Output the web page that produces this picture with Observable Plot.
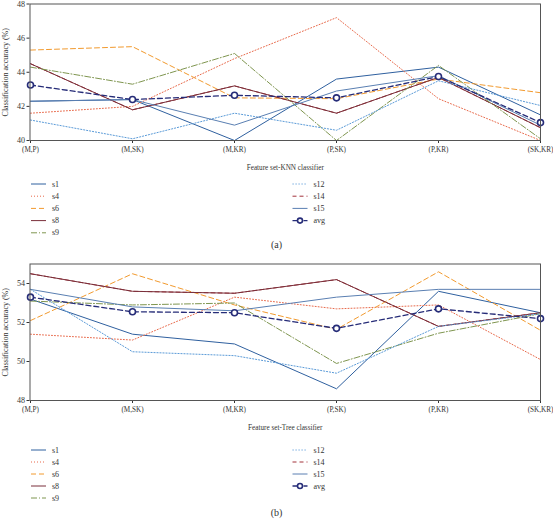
<!DOCTYPE html>
<html><head><meta charset="utf-8">
<script src="https://cdn.jsdelivr.net/npm/d3@7"></script>
<script src="https://cdn.jsdelivr.net/npm/@observablehq/plot@0.6"></script>
<style>
body{margin:0;background:#fff;}
#wrap{position:relative;width:553px;height:520px;font-family:"Liberation Serif",serif;color:#333;overflow:hidden;}
#wrap > *{position:absolute;}
</style></head><body><div id="wrap"></div>
<script>
// ---------- data ----------
const categories = ["(M,P)", "(M,SK)", "(M,KR)", "(P,SK)", "(P,KR)", "(SK,KR)"];
const seriesKeys = ["s1", "s4", "s6", "s8", "s9", "s12", "s14", "s15", "avg"];
const legendLeft = ["s1", "s4", "s6", "s8", "s9"];
const legendRight = ["s12", "s14", "s15", "avg"];
const knnYTicks = [40, 42, 44, 46, 48];
const treeYTicks = [48, 50, 52, 54];

// (a) KNN classifier
const knnS1  = [42.3, 42.4, 40.0, 43.6, 44.3, 41.5];
const knnS4  = [41.6, 42.0, 44.8, 47.2, 42.45, 40.0];
const knnS6  = [45.3, 45.5, 42.5, 42.45, 43.6, 42.8];
const knnS8  = [44.5, 41.8, 43.2, 41.6, 43.7, 40.75];
const knnS9  = [44.3, 43.3, 45.1, 40.0, 44.4, 40.1];
const knnS12 = [41.2, 40.1, 41.6, 40.6, 43.5, 42.05];
const knnS14 = [44.5, 41.8, 43.2, 41.6, 43.7, 40.75];
const knnS15 = [42.3, 42.4, 40.9, 42.9, 43.8, 40.9];
const knnAvg = [43.25, 42.4, 42.65, 42.5, 43.75, 41.05];

// (b) Tree classifier
const treeS1  = [53.2, 51.4, 50.9, 48.6, 53.6, 52.5];
const treeS4  = [51.4, 51.1, 53.3, 52.7, 52.9, 50.1];
const treeS6  = [52.1, 54.5, 52.9, 51.65, 54.6, 51.6];
const treeS8  = [54.5, 53.6, 53.5, 54.2, 51.8, 52.5];
const treeS9  = [53.1, 52.9, 53.0, 49.9, 51.45, 52.45];
const treeS12 = [53.7, 50.5, 50.3, 49.4, 51.8, 52.45];
const treeS14 = [54.5, 53.6, 53.5, 54.2, 51.8, 52.5];
const treeS15 = [53.7, 52.8, 52.6, 53.3, 53.7, 53.7];
const treeAvg = [53.3, 52.55, 52.5, 51.7, 52.7, 52.2];

// ---------- styles ----------
const seriesStyle = {
  s1:  {color: "#2f609f", dash: null},
  s4:  {color: "#e8694a", dash: "1,2"},
  s6:  {color: "#f29a2e", dash: "5,3"},
  s8:  {color: "#7a2f3a", dash: null},
  s9:  {color: "#7f9650", dash: "6,2,1,2"},
  s12: {color: "#5b9bd8", dash: "1.2,1.8"},
  s14: {color: "#a3323a", dash: "4,3"},
  s15: {color: "#5a7fb2", dash: null},
  avg: {color: "#262c78", dash: "5,3"}
};
const drawOrder = ["s14", "s1", "s4", "s6", "s8", "s9", "s12", "s15", "avg"];

function toRows(arrs) {
  return seriesKeys.flatMap((k, i) => arrs[i].map((v, j) => ({series: k, cat: categories[j], value: v})));
}
const knnRows = toRows([knnS1, knnS4, knnS6, knnS8, knnS9, knnS12, knnS14, knnS15, knnAvg]);
const treeRows = toRows([treeS1, treeS4, treeS6, treeS8, treeS9, treeS12, treeS14, treeS15, treeAvg]);

function panel(rows, yDomain, yTicks, xLabel) {
  return Plot.plot({
    width: 553, height: 175.5,
    marginTop: 3.5, marginBottom: 35.5, marginLeft: 29.5, marginRight: 13,
    style: {fontFamily: "'Liberation Serif', serif", fontSize: "8px", color: "#333", background: "transparent", overflow: "visible"},
    x: {type: "point", domain: categories, padding: 0},
    y: {domain: yDomain},
    marks: [
      Plot.axisX({tickSize: 3, tickPadding: 3, fontSize: 7.2, label: xLabel, labelAnchor: "center", labelOffset: 29, labelArrow: "none"}),
      Plot.axisY({ticks: yTicks, tickFormat: d => String(d), tickSize: 3, tickPadding: 2, label: "Classification accuracy (%)", labelAnchor: "center", labelOffset: 28, labelArrow: "none"}),
      ...drawOrder.map(k => Plot.line(rows.filter(d => d.series === k), {
        x: "cat", y: "value", stroke: seriesStyle[k].color,
        strokeDasharray: seriesStyle[k].dash, strokeWidth: k === "avg" ? 1.3 : 1
      })),
      Plot.dot(rows.filter(d => d.series === "avg"), {x: "cat", y: "value", r: 3, stroke: seriesStyle.avg.color, strokeWidth: 1.6, fill: "white"}),
      Plot.frame({stroke: "#555", strokeWidth: 1})
    ]
  });
}

function legend(top, step) {
  const svg = d3.create("svg").attr("width", 553).attr("height", step * 5 + 6)
    .style("left", "0px").style("top", (top - 6) + "px")
    .style("font-family", "'Liberation Serif', serif").style("font-size", "8px");
  const cols = [{keys: legendLeft, x0: 31, x1: 46, tx: 52}, {keys: legendRight, x0: 292.5, x1: 307.5, tx: 313.5}];
  cols.forEach(c => c.keys.forEach((k, i) => {
    const y = 6 + i * step;
    const s = seriesStyle[k];
    svg.append("line").attr("x1", c.x0).attr("x2", c.x1).attr("y1", y).attr("y2", y)
      .attr("stroke", s.color).attr("stroke-width", k === "avg" ? 1.3 : 1)
      .attr("stroke-dasharray", k === "avg" ? "6,1.5,2,1.5" : s.dash);
    if (k === "avg") svg.append("circle").attr("cx", (c.x0 + c.x1) / 2).attr("cy", y).attr("r", 2.5)
      .attr("fill", "white").attr("stroke", s.color).attr("stroke-width", 1.6);
    svg.append("text").attr("x", c.tx).attr("y", y).attr("dy", "0.32em").attr("fill", "#333").text(k);
  }));
  return svg.node();
}

function caption(text, y) {
  const d = document.createElement("div");
  d.textContent = text;
  Object.assign(d.style, {left: "0px", width: "553px", top: (y - 7) + "px", textAlign: "center", fontSize: "10px", lineHeight: "14px", color: "#333"});
  return d;
}

const wrap = document.getElementById("wrap");
const pa = panel(knnRows, [40, 48], knnYTicks, "Feature set-KNN classifier");
pa.style.left = "0px"; pa.style.top = "0px";
wrap.appendChild(pa);
wrap.appendChild(legend(183.5, 12.2));
wrap.appendChild(caption("(a)", 245));

const pb = panel(treeRows, [48, 55], treeYTicks, "Feature set-Tree classifier");
pb.style.left = "0px"; pb.style.top = "259.8px";
wrap.appendChild(pb);
wrap.appendChild(legend(449.8, 12));
wrap.appendChild(caption("(b)", 513));
</script>
</body></html>
